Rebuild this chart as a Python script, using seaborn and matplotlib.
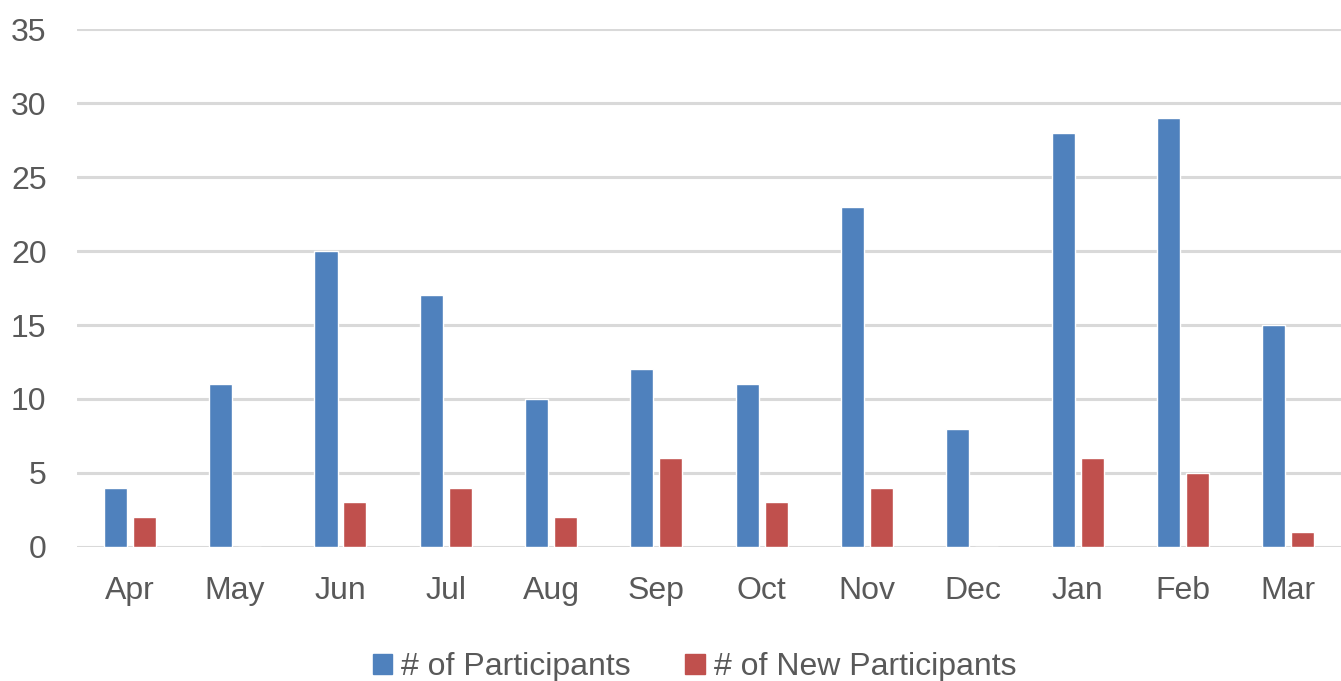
import numpy as np
import pandas as pd
import matplotlib
matplotlib.use("Agg")
import matplotlib.pyplot as plt
import seaborn as sns

months = ["Apr", "May", "Jun", "Jul", "Aug", "Sep", "Oct", "Nov", "Dec", "Jan", "Feb", "Mar"]
participants = [4, 11, 20, 17, 10, 12, 11, 23, 8, 28, 29, 15]
new_participants = [2, 0, 3, 4, 2, 6, 3, 4, 0, 6, 5, 1]
series_names = ["# of Participants", "# of New Participants"]
colors = ["#4F81BD", "#C0504D"]

df = pd.DataFrame({
    "month": months * 2,
    "value": participants + new_participants,
    "series": [series_names[0]] * len(months) + [series_names[1]] * len(months),
})

sns.set_style("white")
plt.rcParams["font.family"] = ["Liberation Sans", "DejaVu Sans"]

fig = plt.figure(figsize=(13.41, 6.81), dpi=100)
ax = fig.add_axes([0.0575, 0.197, 0.9425, 0.76])

sns.barplot(data=df, x="month", y="value", hue="series", order=months,
            hue_order=series_names, palette=colors, width=0.55, gap=0.2,
            saturation=1, ax=ax)

ax.set_ylim(0, 35)
ax.set_xlim(-0.5, 11.5)
ax.set_yticks(np.arange(0, 36, 5))
ax.yaxis.grid(True, color="#d9d9d9", linewidth=2.2)
ax.set_axisbelow(True)
for s in ax.spines.values():
    s.set_visible(False)
ax.set_xlabel("")
ax.set_ylabel("")
ax.tick_params(axis="y", length=0, pad=22, labelsize=23, labelcolor="#595959")
ax.tick_params(axis="x", length=0, pad=21, labelsize=23, labelcolor="#595959")

ax.get_legend().remove()
handles = [plt.Rectangle((0, 0), 1, 1, color=c) for c in colors]
fig.legend(handles, series_names, loc="lower center", bbox_to_anchor=(0.518, -0.044),
           ncol=2, frameon=False, fontsize=23, labelcolor="#595959",
           handlelength=0.6, handleheight=0.6, handletextpad=0.3, columnspacing=1.7)

fig.savefig("out.png", dpi=100)
